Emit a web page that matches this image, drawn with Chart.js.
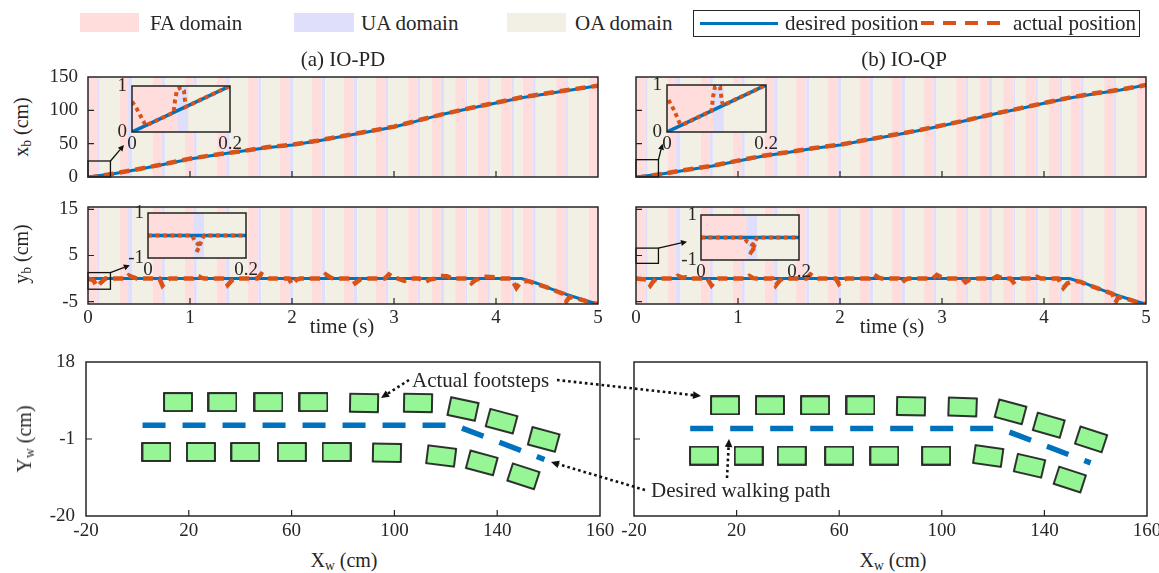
<!DOCTYPE html>
<html><head><meta charset="utf-8">
<script src="https://cdn.jsdelivr.net/npm/chart.js@4.4.1/dist/chart.umd.min.js"></script>
<style>
body{margin:0;background:#fff;}
#fig{position:relative;width:1159px;height:573px;overflow:hidden;background:#fff;font-family:"Liberation Serif","Times New Roman",serif;color:#262626;}
.t{position:absolute;white-space:nowrap;font-size:20px;line-height:1;}
.t sub{font-size:68%;vertical-align:-0.25em;line-height:0;}
.sw{position:absolute;}
</style></head><body><div id="fig"></div>
<script>
// ---------------- data ----------------
const bandFA = [0, 0.31, 0.633, 0.95, 1.26, 1.57, 1.88, 2.19, 2.51, 2.82, 3.14, 3.37, 3.60, 3.82, 4.05, 4.26, 4.59, 4.91];
const bandUA = [0.093, 0.393, 0.72, 1.035, 1.355, 1.67, 1.975, 2.29, 2.605, 2.915, 3.23, 3.46, 3.70, 3.915, 4.155, 4.36, 4.68];
const bandOA = [0.115, 0.436, 0.754, 1.067, 1.39, 1.70, 2.01, 2.325, 2.64, 2.945, 3.255, 3.49, 3.72, 3.94, 4.18, 4.39, 4.705];

const timeGrid    = [0,0.25,0.5,0.75,1,1.25,1.5,1.75,2,2.25,2.5,2.75,3,3.25,3.5,3.75,4,4.25,4.5,4.75,5];
const xbDesiredPD = [0,5,11.5,19,27,33,38.5,44,48,54,61,68,75,85,95,103,111,119,125,131,137];
const xbActualPD  = [-1.5,5,12,19.5,27.5,33.5,38.5,44.5,48.5,54.5,61.5,68.5,75.5,85.5,95,103.5,111.5,119.5,125.5,131.5,137];
const xbDesiredQP = [0,4.5,10.5,16.5,24,31.5,37,43,48,55,62,69,77,85,94,102,110.5,118.5,125,130.5,138];
const xbActualQP  = [-1.5,4.5,11,17,24.5,32,37.5,43.5,48.5,55.5,62.5,69.5,77.5,85.5,94.5,102.5,111,119,125.5,131,138];

const ybDesiredTime = [0,4.25,4.4,4.5,4.6,4.7,4.8,4.9,5];
const ybDesiredPD   = [0,0,-1.0,-1.9,-2.7,-3.5,-4.2,-4.9,-5.5];
const ybDesiredQP   = [0,0,-1.0,-1.9,-2.7,-3.5,-4.2,-4.9,-5.5];
const ybActualPD = [[0,0],[0.05,-0.3],[0.09,-1.7],[0.13,-0.8],[0.17,0],[0.37,0],[0.40,0.7],[0.44,0.3],[0.48,0],
  [0.70,0],[0.73,-1.5],[0.77,-0.5],[0.80,0],[1.03,0],[1.07,0.7],[1.11,0.2],[1.14,0],[1.34,0],[1.37,-1.4],[1.41,-0.4],[1.45,0],
  [1.66,0],[1.70,1.0],[1.75,0.3],[1.78,0],[1.97,0],[2.00,-1.3],[2.04,-0.3],[2.08,0],[2.29,0],[2.33,0.9],[2.38,0.2],[2.41,0],
  [2.59,0],[2.62,-1.0],[2.67,-0.2],[2.70,0],[2.91,0],[2.95,0.9],[3.00,0.2],[3.04,0],[3.10,-0.5],[3.15,0],[3.25,0],[3.30,-0.8],
  [3.35,-0.2],[3.40,0],[3.45,0.6],[3.52,0.5],[3.57,0],[3.72,0],[3.76,-1.0],[3.80,-0.3],[3.84,0],[3.90,0.4],[4.00,0.3],[4.05,0],
  [4.15,0],[4.20,-2.0],[4.24,-0.8],[4.30,-0.5],[4.34,-0.7],[4.40,-1.2],[4.50,-1.9],[4.60,-2.8],[4.66,-3.3],[4.69,-4.9],[4.72,-4.0],
  [4.80,-4.3],[4.90,-5.0],[5.00,-5.5]];
const ybActualQP = [[0,0],[0.10,-0.2],[0.14,-1.5],[0.17,-0.6],[0.20,0],[0.37,0],[0.41,0.6],[0.45,0.2],[0.49,0.3],[0.53,0],
  [0.70,0],[0.74,-1.5],[0.78,-0.5],[0.81,0],[1.07,0],[1.11,0.6],[1.15,0.1],[1.18,0],[1.34,0],[1.37,-1.5],[1.41,-0.4],[1.44,0],
  [1.67,0],[1.71,0.9],[1.76,0.2],[1.79,0],[1.96,0],[1.99,-1.2],[2.03,-0.3],[2.06,0],[2.29,0],[2.33,0.9],[2.38,0.2],[2.41,0],
  [2.57,0],[2.60,-1.0],[2.64,-0.2],[2.67,0],[2.91,0],[2.95,0.8],[3.00,0.2],[3.03,0],[3.20,0],[3.23,-0.8],[3.27,-0.2],[3.30,0],
  [3.50,0],[3.54,0.5],[3.60,0],[3.67,0],[3.70,-0.8],[3.74,-0.2],[3.78,0],[3.90,0],[3.93,0.4],[3.97,0],[4.14,0],[4.19,-2.0],
  [4.23,-1.0],[4.30,-0.5],[4.36,-0.7],[4.42,-1.3],[4.50,-1.9],[4.60,-2.7],[4.67,-3.3],[4.70,-5.2],[4.73,-4.0],[4.80,-4.3],
  [4.90,-5.0],[5.00,-5.5]];

const insetXbDesired  = [[0,0],[0.2,1]];
const insetXbActualPD = [[0,0.66],[0.01,0.5],[0.02,0.3],[0.028,0.14],[0.085,0.425],[0.088,0.7],[0.092,0.92],[0.1,0.97],[0.106,0.9],[0.108,0.7],[0.11,0.55],[0.2,1]];
const insetXbActualQP = [[0.003,0.68],[0.015,0.45],[0.025,0.2],[0.03,0.15],[0.09,0.45],[0.093,0.75],[0.097,0.96],[0.107,0.96],[0.111,0.65],[0.114,0.57],[0.2,1]];
const insetYbDesired  = [[0,0],[0.2,0]];
const insetYbActualPD = [[0,0],[0.09,0],[0.097,-0.3],[0.106,-0.45],[0.102,-0.62],[0.098,-0.8],[0.104,-0.5],[0.112,-0.1],[0.115,0],[0.2,0]];
const insetYbActualQP = [[0,0],[0.087,0],[0.095,-0.2],[0.105,-0.3],[0.1,-0.5],[0.106,-0.55],[0.1,-0.75],[0.108,-0.4],[0.113,-0.05],[0.116,0],[0.2,0]];

const footUpperX_PD = [15.8,33.1,51,68.5,88.2,109.2,126.7,141.7,158.1];
const footUpperY_PD = [8.1,8.1,8.1,8.1,7.9,7.9,6.4,3.4,-1.1];
const footUpperA_PD = [0,0,0,0,1,1,12,15,15];
const footLowerX_PD = [7.4,24.7,42,60.1,77.5,97.1,118.2,134,150.2];
const footLowerY_PD = [-4.2,-4.2,-4.2,-4.2,-4.2,-4.4,-5.2,-6.9,-10.2];
const footLowerA_PD = [0,0,0,0,0,1,7,15,18];
const pathX_PD = [2,123.4,158.4];
const pathY_PD = [2.4,2.4,-6.05];

const footUpperX_QP = [15.5,33,50.6,68.3,88,108.1,126.8,141.7,158.2];
const footUpperY_QP = [7.3,7.3,7.3,7.3,7.1,6.9,5.7,2.4,-1.1];
const footUpperA_QP = [0,0,0,0,1,2,15,16,18];
const footLowerX_QP = [7.3,24.7,41.5,60,77.6,97.8,118.1,134.2,149.9];
const footLowerY_QP = [-5.1,-5.1,-5.1,-5.1,-5.1,-5.1,-5.2,-7.6,-11];
const footLowerA_QP = [0,0,0,0,0,0,8,13,18];
const pathX_QP = [1.9,122.7,158];
const pathY_QP = [1.6,1.6,-6.9];

const timeTicks = [0,1,2,3,4,5];
const xbTicks = [0,50,100,150];
const ybTicks = [-5,5,15];
const insetTimeTicks = [0,0.2];
const insetXbTicks = [0,1];
const insetYbTicks = [-1,1];
const XwTicks = [-20,20,60,100,140,180];
const XwTickLabels = ['-20','20','60','100','140','160'];
const YwTicks = [-20,-1,18];

// zoom boxes [t0,t1,v0,v1] and arrows [t0,v0,t1,v1] in data units
const zoomBoxXbPD = [0,0.22,0,24],  zoomArrowXbPD = [0.22,24,0.353,48];
const zoomBoxXbQP = [0,0.22,0,26],  zoomArrowXbQP = [0.22,26,0.26,50];
const zoomBoxYbPD = [0,0.22,-2.3,1.3], zoomArrowYbPD = [0.22,1.3,0.41,2.9];
const zoomBoxYbQP = [0,0.22,3.3,6.6],  zoomArrowYbQP = [0.22,6.6,0.5,8.0];

// ---------------- style ----------------
const COL_FA = 'rgb(255,221,221)', COL_UA = 'rgb(223,223,252)', COL_OA = 'rgb(242,240,228)';
const BLUE = '#0072BD', ORANGE = '#D95319', INK = '#262626';
const FONT = 'Liberation Serif';
Chart.defaults.font.family = FONT;
const fig = document.getElementById('fig');

const panelPlugin = {
  id: 'panel',
  beforeDatasetsDraw(chart, args, o) {
    if (!o.bands) return;
    const {ctx, chartArea: a} = chart; const x = chart.scales.x;
    ctx.save(); ctx.beginPath(); ctx.rect(a.left, a.top, a.right - a.left, a.bottom - a.top); ctx.clip();
    const put = (s, e, col) => { if (e <= s) return; const p1 = x.getPixelForValue(s), p2 = x.getPixelForValue(e);
      ctx.fillStyle = col; ctx.fillRect(p1, a.top, p2 - p1, a.bottom - a.top); };
    for (let i = 0; i < bandFA.length; i++) {
      if (i < bandUA.length) {
        put(bandFA[i], bandUA[i], COL_FA);
        put(bandUA[i], bandOA[i], COL_UA);
        put(bandOA[i], i + 1 < bandFA.length ? bandFA[i + 1] : 5, COL_OA);
      } else put(bandFA[i], 5, COL_FA);
    }
    ctx.restore();
  },
  afterDatasetsDraw(chart, args, o) {
    const {ctx, chartArea: a, scales: {x, y}} = chart;
    ctx.save();
    ctx.strokeStyle = INK; ctx.lineWidth = 1.2;
    ctx.beginPath();
    x.ticks.forEach(t => { const p = x.getPixelForValue(t.value); if (p > a.left + 1 && p < a.right - 1) { ctx.moveTo(p, a.bottom); ctx.lineTo(p, a.bottom - 6); } });
    y.ticks.forEach(t => { const p = y.getPixelForValue(t.value); if (p > a.top + 1 && p < a.bottom - 1) { ctx.moveTo(a.left, p); ctx.lineTo(a.left + 6, p); } });
    ctx.stroke();
    if (o.zoomBox) {
      const b = o.zoomBox; const px0 = x.getPixelForValue(b[0]), px1 = x.getPixelForValue(b[1]);
      const py0 = y.getPixelForValue(b[2]), py1 = y.getPixelForValue(b[3]);
      ctx.strokeStyle = '#111'; ctx.lineWidth = 1.3; ctx.strokeRect(px0, py1, px1 - px0, py0 - py1);
    }
    if (o.arrow) {
      const r = o.arrow; const x1 = x.getPixelForValue(r[0]), y1 = y.getPixelForValue(r[1]);
      const x2 = x.getPixelForValue(r[2]), y2 = y.getPixelForValue(r[3]);
      const L = Math.hypot(x2 - x1, y2 - y1), ux = (x2 - x1) / L, uy = (y2 - y1) / L;
      const bx = x2 - ux * 6, by = y2 - uy * 6;
      ctx.strokeStyle = '#111'; ctx.fillStyle = '#111'; ctx.lineWidth = 1.3;
      ctx.beginPath(); ctx.moveTo(x1, y1); ctx.lineTo(bx, by); ctx.stroke();
      ctx.beginPath(); ctx.moveTo(x2, y2); ctx.lineTo(bx - uy * 3, by + ux * 3); ctx.lineTo(bx + uy * 3, by - ux * 3); ctx.closePath(); ctx.fill();
    }
    ctx.strokeStyle = o.frameColor || INK; ctx.lineWidth = o.frameWidth || 1.5;
    ctx.strokeRect(a.left, a.top, a.right - a.left, a.bottom - a.top);
    ctx.restore();
  }
};

function scale(min, max, ticks, show, pad, size, labels) {
  return { type: 'linear', min, max,
    afterBuildTicks: s => { s.ticks = ticks.map(v => ({value: v})); },
    grid: {display: false, drawTicks: false}, border: {display: false},
    ticks: { display: show, padding: pad, color: INK, autoSkip: false, maxRotation: 0,
      font: {family: FONT, size: size || 19},
      callback: (v, i) => labels ? labels[i] : String(v) } };
}

function makeChart(box, pad, scales, datasets, panelOpts) {
  const W = box.w + pad.l + pad.r, H = box.h + pad.t + pad.b;
  const cv = document.createElement('canvas');
  cv.width = W; cv.height = H;
  cv.style.cssText = `position:absolute;left:${box.l - pad.l}px;top:${box.t - pad.t}px;width:${W}px;height:${H}px;`;
  fig.appendChild(cv);
  scales.x.afterFit = s => { s.height = pad.b; };
  scales.y.afterFit = s => { s.width = pad.l; };
  return new Chart(cv, {
    type: 'line', data: {datasets},
    options: { responsive: false, animation: false, events: [],
      layout: {padding: {left: 0, top: pad.t, right: pad.r, bottom: 0}},
      scales, elements: {point: {radius: 0}, line: {tension: 0}},
      plugins: {legend: {display: false}, tooltip: {enabled: false}, panel: panelOpts} },
    plugins: [panelPlugin]
  });
}
const zipXY = (xs, ys) => xs.map((v, i) => ({x: v, y: ys[i]}));
const pairs = p => p.map(q => ({x: q[0], y: q[1]}));
const actualDs = (data, w, dash) => ({data, borderColor: ORANGE, borderWidth: w || 4.5, borderDash: dash || [10, 6], pointRadius: 0, fill: false});
const desiredDs = (data, w) => ({data, borderColor: BLUE, borderWidth: w || 3, pointRadius: 0, fill: false});

// ---------------- main time panels ----------------
makeChart({l: 88, t: 77, w: 510, h: 100}, {l: 50, t: 26, r: 16, b: 26},
  {x: scale(0, 5, timeTicks, false, 0), y: scale(0, 150, xbTicks, true, 10)},
  [actualDs(zipXY(timeGrid, xbActualPD)), desiredDs(zipXY(timeGrid, xbDesiredPD))],
  {bands: true, zoomBox: zoomBoxXbPD, arrow: zoomArrowXbPD});
makeChart({l: 88, t: 207, w: 510, h: 97}, {l: 50, t: 26, r: 16, b: 28},
  {x: scale(0, 5, timeTicks, true, 3), y: scale(-5.5, 15.5, ybTicks, true, 10)},
  [actualDs(pairs(ybActualPD)), desiredDs(zipXY(ybDesiredTime, ybDesiredPD))],
  {bands: true, zoomBox: zoomBoxYbPD, arrow: zoomArrowYbPD});
makeChart({l: 636, t: 77, w: 510, h: 100}, {l: 12, t: 14, r: 12, b: 10},
  {x: scale(0, 5, timeTicks, false, 0), y: scale(0, 150, xbTicks, false, 0)},
  [actualDs(zipXY(timeGrid, xbActualQP)), desiredDs(zipXY(timeGrid, xbDesiredQP))],
  {bands: true, zoomBox: zoomBoxXbQP, arrow: zoomArrowXbQP});
makeChart({l: 636, t: 207, w: 510, h: 97}, {l: 12, t: 14, r: 12, b: 28},
  {x: scale(0, 5, timeTicks, true, 3), y: scale(-5.5, 15.5, ybTicks, false, 0)},
  [actualDs(pairs(ybActualQP)), desiredDs(zipXY(ybDesiredTime, ybDesiredQP))],
  {bands: true, zoomBox: zoomBoxYbQP, arrow: zoomArrowYbQP});

// ---------------- insets ----------------
const insetDs = (act, des) => [actualDs(pairs(act), 4, [4, 3.5]), desiredDs(pairs(des), 3.5)];
makeChart({l: 132, t: 86, w: 98, h: 46}, {l: 22, t: 20, r: 20, b: 24},
  {x: scale(0, 0.2, insetTimeTicks, true, 1), y: scale(0, 1, insetXbTicks, true, 5)},
  insetDs(insetXbActualPD, insetXbDesired), {bands: true, frameColor: '#222'});
makeChart({l: 667, t: 85, w: 99, h: 47}, {l: 22, t: 20, r: 20, b: 24},
  {x: scale(0, 0.2, insetTimeTicks, true, 1), y: scale(0, 1, insetXbTicks, true, 5)},
  insetDs(insetXbActualQP, insetXbDesired), {bands: true, frameColor: '#222'});
makeChart({l: 148, t: 213, w: 98, h: 45}, {l: 24, t: 20, r: 20, b: 24},
  {x: scale(0, 0.2, insetTimeTicks, true, 1), y: scale(-1, 1, insetYbTicks, true, 4)},
  insetDs(insetYbActualPD, insetYbDesired), {bands: true, frameColor: '#222'});
makeChart({l: 701, t: 215, w: 98, h: 45}, {l: 24, t: 20, r: 20, b: 24},
  {x: scale(0, 0.2, insetTimeTicks, true, 1), y: scale(-1, 1, insetYbTicks, true, 4)},
  insetDs(insetYbActualQP, insetYbDesired), {bands: true, frameColor: '#222'});

// ---------------- footstep panels ----------------
const foot = document.createElement('canvas'); foot.width = 30; foot.height = 20;
(g => { g.fillStyle = 'rgb(150,246,150)'; g.fillRect(1, 1, 28, 18); g.lineWidth = 1.7; g.strokeStyle = '#111'; g.strokeRect(1, 1, 28, 18); })(foot.getContext('2d'));
const footDs = (xs, ys, ang) => ({data: zipXY(xs, ys), showLine: false, pointStyle: foot, pointRadius: 10, pointRotation: ang, borderWidth: 0});
const pathDs = (xs, ys) => ({data: zipXY(xs, ys), borderColor: BLUE, borderWidth: 5.5, borderDash: [23, 17], pointRadius: 0, borderCapStyle: 'butt', fill: false});
makeChart({l: 86, t: 362, w: 514, h: 154}, {l: 50, t: 26, r: 26, b: 30},
  {x: scale(-20, 180, XwTicks, true, 4, 19, XwTickLabels), y: scale(-20, 18, YwTicks, true, 11)},
  [footDs(footUpperX_PD, footUpperY_PD, footUpperA_PD), footDs(footLowerX_PD, footLowerY_PD, footLowerA_PD), pathDs(pathX_PD, pathY_PD)], {});
makeChart({l: 634, t: 362, w: 513, h: 154}, {l: 26, t: 14, r: 26, b: 30},
  {x: scale(-20, 180, XwTicks, true, 4, 19, XwTickLabels), y: scale(-20, 18, YwTicks, false, 0)},
  [footDs(footUpperX_QP, footUpperY_QP, footUpperA_QP), footDs(footLowerX_QP, footLowerY_QP, footLowerA_QP), pathDs(pathX_QP, pathY_QP)], {});

// ---------------- text ----------------
function txt(html, x, y, opt) {
  opt = opt || {};
  const d = document.createElement('div'); d.className = 't'; d.innerHTML = html;
  const ax = opt.align === 'left' ? '0' : '-50%';
  d.style.left = x + 'px'; d.style.top = y + 'px';
  if (opt.size) d.style.fontSize = opt.size + 'px';
  d.style.transform = `translate(${ax},-50%)` + (opt.rot ? ' rotate(-90deg)' : '');
  fig.appendChild(d); return d;
}
function sw(x, y, w, h, css) { const d = document.createElement('div'); d.className = 'sw'; d.style.cssText += `left:${x}px;top:${y}px;width:${w}px;height:${h}px;` + css; fig.appendChild(d); }
// legend
sw(80, 13, 59, 19, `background:${COL_FA};`); txt('FA domain', 150, 23, {align: 'left', size: 21});
sw(294, 13, 60, 19, `background:${COL_UA};`); txt('UA domain', 361, 23, {align: 'left', size: 21});
sw(507, 13, 59, 19, `background:${COL_OA};`); txt('OA domain', 575, 23, {align: 'left', size: 21});
sw(693, 10, 447, 27, 'border:1px solid #262626;box-sizing:border-box;');
sw(700, 22, 78, 3, `background:${BLUE};`); txt('desired position', 785, 23, {align: 'left', size: 21});
sw(921, 21, 80, 4, `background:repeating-linear-gradient(90deg,${ORANGE} 0 13px,transparent 13px 22px);`);
txt('actual position', 1013, 23, {align: 'left', size: 21});
// titles and axis labels
txt('(a) IO-PD', 343, 59, {size: 21}); txt('(b) IO-QP', 904, 59, {size: 21});
txt('x<sub>b</sub> (cm)', 21, 127, {rot: true});
txt('y<sub>b</sub> (cm)', 21, 254, {rot: true});
txt('Y<sub>w</sub> (cm)', 24, 439, {rot: true});
txt('time (s)', 342, 326, {size: 21}); txt('time (s)', 892, 326, {size: 21});
txt('X<sub>w</sub> (cm)', 344, 560); txt('X<sub>w</sub> (cm)', 893, 560);
txt('Actual footsteps', 412, 380, {align: 'left', size: 21});
txt('Desired walking path', 651, 490, {align: 'left', size: 21});
// dotted annotation arrows
const NS = 'http://www.w3.org/2000/svg';
const svg = document.createElementNS(NS, 'svg');
svg.setAttribute('width', 1159); svg.setAttribute('height', 573);
svg.style.cssText = 'position:absolute;left:0;top:0;';
fig.appendChild(svg);
function dotArrow(x1, y1, x2, y2) {
  const L = Math.hypot(x2 - x1, y2 - y1), ux = (x2 - x1) / L, uy = (y2 - y1) / L;
  const bx = x2 - ux * 8, by = y2 - uy * 8;
  const ln = document.createElementNS(NS, 'line');
  ln.setAttribute('x1', x1); ln.setAttribute('y1', y1); ln.setAttribute('x2', bx); ln.setAttribute('y2', by);
  ln.setAttribute('stroke', '#111'); ln.setAttribute('stroke-width', 2.6); ln.setAttribute('stroke-dasharray', '2.6 3');
  svg.appendChild(ln);
  const pg = document.createElementNS(NS, 'polygon');
  pg.setAttribute('points', `${x2},${y2} ${bx - uy * 3.8},${by + ux * 3.8} ${bx + uy * 3.8},${by - ux * 3.8}`);
  pg.setAttribute('fill', '#111'); svg.appendChild(pg);
}
dotArrow(409, 380, 381, 398);
dotArrow(557, 380, 701, 396);
dotArrow(645, 490, 551, 462);
dotArrow(727, 478, 729, 439);
</script></body></html>
